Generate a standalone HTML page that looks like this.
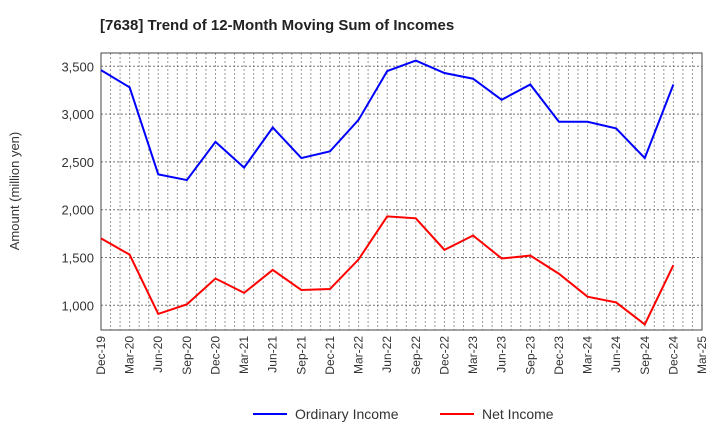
<!DOCTYPE html>
<html><head><meta charset="utf-8"><style>body{margin:0;background:#fff;font-family:"Liberation Sans",sans-serif}</style></head>
<body>
<svg id="chart" width="720" height="440" xmlns="http://www.w3.org/2000/svg">
<text x="100" y="30" font-size="15" font-weight="bold" fill="#222">[7638]  Trend of 12-Month Moving Sum of Incomes</text>
<text transform="translate(19,191) rotate(-90)" text-anchor="middle" font-size="13" fill="#333">Amount (million yen)</text>
<g id="grid"></g><g id="axes"></g><g id="series"></g>
<g>
<line x1="253" y1="414" x2="287" y2="414" stroke="#0000ff" stroke-width="2"/>
<text x="295" y="419" font-size="14" fill="#333">Ordinary Income</text>
<line x1="440" y1="414" x2="474" y2="414" stroke="#ff0000" stroke-width="2"/>
<text x="482" y="419" font-size="14" fill="#333">Net Income</text>
</g>
</svg>
<script>
const categories=["Dec-19","Mar-20","Jun-20","Sep-20","Dec-20","Mar-21","Jun-21","Sep-21","Dec-21","Mar-22","Jun-22","Sep-22","Dec-22","Mar-23","Jun-23","Sep-23","Dec-23","Mar-24","Jun-24","Sep-24","Dec-24","Mar-25"];
const ordinaryIncome=[3460,3280,2370,2310,2710,2440,2860,2540,2610,2940,3450,3560,3430,3370,3150,3310,2920,2920,2850,2540,3310];
const netIncome=[1700,1530,910,1010,1280,1130,1370,1160,1170,1480,1930,1910,1580,1730,1490,1520,1330,1090,1030,800,1420];
const yTicks=[1000,1500,2000,2500,3000,3500];
const L=101,R=702,T=53,B=330;
const yMin=1000-(330-305.3)/(305.3-66.3)*2500, yMax=3500+(66.3-53)/(305.3-66.3)*2500;
const x=i=>L+(R-L)*i/(categories.length-1);
const y=v=>B-(v-yMin)/(yMax-yMin)*(B-T);
const NS="http://www.w3.org/2000/svg";
function mk(tag,attrs,parent){const e=document.createElementNS(NS,tag);for(const k in attrs)e.setAttribute(k,attrs[k]);parent.appendChild(e);return e;}
const grid=document.getElementById('grid'),axes=document.getElementById('axes'),series=document.getElementById('series');
for(let m=1;m<(categories.length-1)*3;m++){const xx=L+(R-L)*m/((categories.length-1)*3);
 const g=mk('line',{x1:xx,x2:xx,y1:T,y2:B,stroke:'#999','stroke-width':1,'stroke-dasharray':'2,2'},grid);
 }
yTicks.forEach(v=>{const g=mk('line',{x1:L,x2:R,y1:y(v),y2:y(v),stroke:'#777','stroke-width':1,'stroke-dasharray':'2,2'},grid);
 
 const t=mk('text',{x:L-7,y:y(v)+5,'text-anchor':'end','font-size':13,fill:'#333'},axes);t.textContent=v.toLocaleString('en-US');
 });
const fr=mk('rect',{x:L,y:T,width:R-L,height:B-T,fill:'none',stroke:'#444','stroke-width':1},axes);

categories.forEach((c,i)=>{const t=mk('text',{transform:`translate(${x(i)+4},${B+6}) rotate(-90)`,'text-anchor':'end','font-size':12,fill:'#333'},axes);t.textContent=c;
 });
[[ordinaryIncome,'#0000ff','ordinary-income-line'],[netIncome,'#ff0000','net-income-line']].forEach(([d,c,n])=>{
 const p=mk('polyline',{points:d.map((v,i)=>x(i)+','+y(v)).join(' '),fill:'none',stroke:c,'stroke-width':2},series);
 });
</script>
</body></html>
